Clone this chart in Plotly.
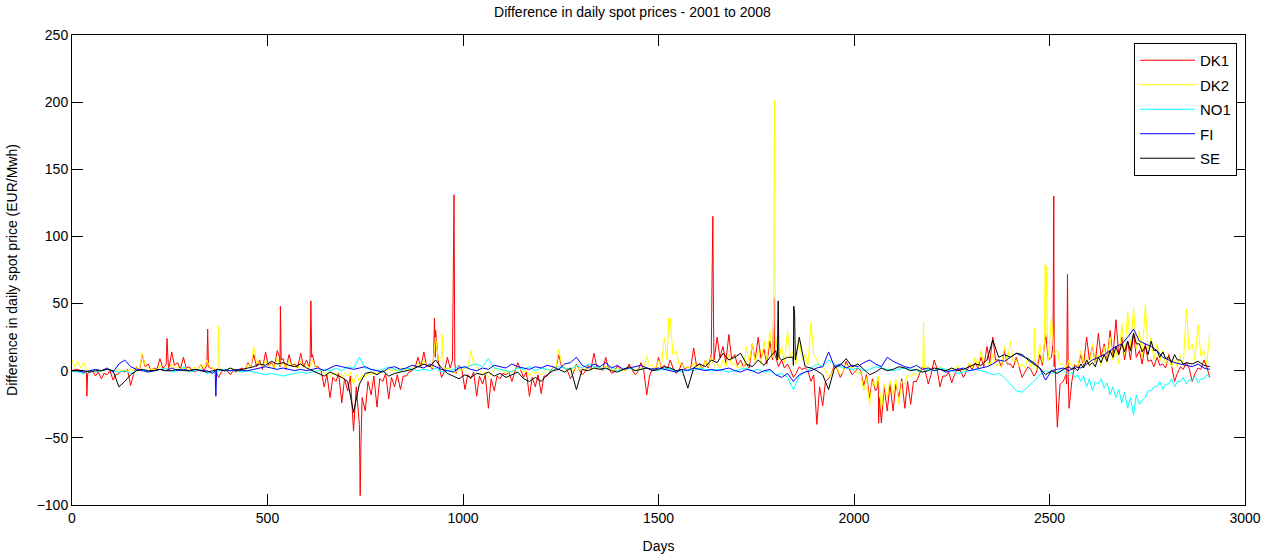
import plotly.graph_objects as go

# ---- data ----
grid_days = list(range(0, 2911, 15))   # outer-envelope sampling days
mid_days = list(range(7, 2903, 15))    # inner-envelope sampling days

dk1_base = [
    0, 1, -2, -1, -4, -6, -3, -7, -2, -1,
    -11, 3, 12, 5, 2, 9, 4, 14, 6, 10,
    3, -1, 5, 12, 2, -5, 1, -3, -1, 2,
    6, 12, 8, 14, 6, 15, 9, 12, 5, 13,
    8, 12, 3, -12, -20, -8, -24, -15, -45, -70,
    -30, -18, -27, -8, -21, -12, -14, -4, 0, 10,
    14, 4, 30, -5, 10, -8, 4, -14, -6, -19,
    -10, -28, -15, -6, -3, -8, 6, -5, -19, -12,
    -17, -4, 3, 12, 2, -6, 5, -3, 4, 13,
    2, 10, -2, 4, 1, 5, -3, 6, -18, 2,
    10, 4, 8, -2, 6, 3, 17, 5, 8, 22,
    25, 18, 27, 12, 8, 5, 20, 25, 16, 22,
    10, 8, 5, -5, 3, 2, -8, -40, -26, -6,
    4, -5, 7, -3, 2, -11, -20, -15, -39, -30,
    -30, -20, -28, -25, -8, 3, -10, 8, -12, -4,
    -9, 2, -5, 4, 6, 10, 18, 25, 8, 15,
    5, 10, -5, 3, -4, 12, 28, 10, -42, -8,
    -28, 5, 12, 25, 18, 28, 20, 30, 38, 25,
    22, 28, 15, 20, 8, 10, 5, 12, -8, 3,
    6, -8, 2, 8, -5,
]
dk1_mid = [
    1, 0, -3, 0, -1, -2, 0, -3, 0, 1,
    -3, 0, 3, 0, 1, 2, 0, 4, 1, 2,
    0, 1, 0, 2, 0, -1, 0, 0, 1, 0,
    2, 3, 1, 4, 2, 3, 1, 4, 2, 3,
    2, 3, 0, -3, -5, -2, -6, -4, -12, -20,
    -8, -4, -6, -2, -5, -3, -4, -1, 2, 3,
    3, 1, 6, -1, 2, -2, 1, -3, -1, -4,
    -3, -6, -4, -2, -1, -2, 1, -1, -5, -3,
    -4, -1, 1, 3, 0, -2, 1, -1, 1, 3,
    0, 2, -1, 1, 0, 1, -1, 1, -4, 0,
    2, 1, 2, 0, 1, 1, 4, 1, 2, 8,
    10, 6, 9, 4, 3, 2, 8, 9, 5, 8,
    3, 2, 1, -2, 1, 0, -3, -12, -8, -2,
    1, -1, 2, -1, 0, -3, -6, -5, -12, -10,
    -10, -6, -8, -8, -3, 0, -3, 2, -4, -1,
    -3, 0, -1, 1, 2, 3, 6, 8, 3, 5,
    2, 3, -1, 1, -1, 4, 8, 3, -10, -3,
    -8, 2, 4, 8, 6, 10, 7, 10, 12, 8,
    8, 10, 5, 7, 3, 4, 2, 4, -2, 1,
    2, -2, 1, 3,
]
dk1_spike_days = [36, 38, 40, 241, 243, 245, 345, 347, 349, 531, 533, 535,
                  609, 611, 613, 735, 737, 739, 925, 927, 929, 973, 975, 977, 979,
                  1635, 1637, 1639, 1641, 1793, 1795, 1797, 2061, 2063, 2065,
                  2509, 2511, 2513, 2544, 2546, 2548]
dk1_spike_vals = [-1, -19, -2, 5, 24, 6, 4, 31, 3, 10, 48, 8,
                  9, 52, 10, -40, -93, -55, 12, 39, 10, 8, 65, 131, 6,
                  12, 70, 115, 28, 20, 54, 12, -12, -39, -20,
                  20, 130, 15, -10, 72, -5]

dk2_base = [
    8, 7, 6, 0, 1, 0, 2, 0, 1, 0,
    1, 3, 13, 2, 1, 4, 2, 5, 3, 2,
    1, 3, 5, 8, 2, 1, 0, 2, 1, 1,
    5, 18, 6, 8, 5, 10, 6, 8, 4, 7,
    5, 8, 2, -2, -5, -3, -6, -4, -10, -8,
    -5, -3, -2, -1, 1, 0, 2, 1, 3, 6,
    8, 5, 25, 3, 2, -2, 1, 2, 15, 3,
    -3, -5, 2, 1, -2, 0, 3, -1, -4, -2,
    -3, 1, 3, 16, 2, 0, 4, 1, 3, 2,
    3, 4, 1, 2, 0, 3, 1, 2, 11, 4,
    8, 25, 39, 15, 5, 3, 6, 4, 8, 10,
    5, 8, 12, 6, 4, 18, 20, 15, 22, 30,
    25, 18, 30, 15, 25, 12, 36, 8, 3, -5,
    2, -3, 5, 3, -2, -15, -25, -12, -29, -20,
    -18, -25, -10, -5, -3, 2, 4, 1, 3, 0,
    2, 4, 1, 6, 10, 15, 8, 12, 5, 18,
    22, 8, 5, 10, 3, 20, 25, 40, 15, 5,
    8, 5, 15, 10, 20, 12, 18, 25, 15, 35,
    44, 47, 30, 49, 25, 20, 15, 10, 8, 12,
    46, 20, 34, 15, 28,
]
dk2_mid = [
    3, 2, 1, 0, 0, 0, 1, 0, 0, 0,
    0, 1, 4, 1, 0, 1, 1, 2, 1, 1,
    0, 1, 2, 3, 1, 0, 0, 1, 0, 0,
    2, 6, 2, 3, 2, 4, 2, 3, 1, 2,
    2, 3, 1, -1, -2, -1, -2, -1, -3, -3,
    -2, -1, -1, 0, 0, 0, 1, 0, 1, 2,
    3, 2, 8, 1, 1, -1, 0, 1, 5, 1,
    -1, -2, 1, 0, -1, 0, 1, 0, -1, -1,
    -1, 0, 1, 5, 1, 0, 1, 0, 1, 1,
    1, 1, 0, 1, 0, 1, 0, 1, 4, 1,
    3, 8, 12, 5, 2, 1, 2, 1, 3, 4,
    2, 3, 4, 2, 1, 6, 7, 5, 8, 10,
    8, 6, 10, 5, 8, 4, 12, 3, 1, -2,
    1, -1, 2, 1, -1, -5, -8, -4, -10, -7,
    -6, -8, -3, -2, -1, 1, 1, 0, 1, 0,
    1, 1, 0, 2, 3, 5, 3, 4, 2, 6,
    7, 3, 2, 3, 1, 6, 8, 12, 5, 2,
    3, 2, 5, 3, 6, 4, 6, 8, 5, 12,
    15, 16, 10, 16, 8, 7, 5, 3, 3, 4,
    15, 7, 11, 5,
]
dk2_spike_days = [373, 375, 377, 945, 947, 949, 1524, 1526, 1528,
                  1794, 1795, 1797, 1799, 2176, 2178, 2180,
                  2459, 2461, 2463, 2487, 2489, 2491, 2493, 2495]
dk2_spike_vals = [2, 33, 3, 10, 27, 8, 20, 39, 25,
                  30, 105, 201, 20, 3, 36, 2,
                  8, 32, 10, 20, 80, 39, 78, 20]

no1_base = [
    0, -1, -2, 0, -1, 0, 1, 0, -1, 0,
    -2, 0, 1, -1, 0, 1, 2, -1, 0, 3,
    -1, 0, 1, -2, -1, 0, 1, 0, 0, -1,
    0, -1, -2, -3, -2, -3, -4, -3, -2, -1,
    -2, -1, 0, 1, 0, 2, 0, 3, 2, 10,
    2, 1, 0, 1, 3, 1, 0, 2, 1, 0,
    1, 0, 2, -1, 0, 1, 3, 2, 4, 5,
    3, 9, 2, 1, 0, -1, 2, 1, 3, 0,
    2, 1, 0, 3, 2, 1, 4, 2, 5, 3,
    2, 1, 3, 0, 1, 2, 0, 1, 2, 1,
    0, 2, 1, 0, -1, 1, 0, 2, 1, 0,
    1, 0, -1, 0, 1, 2, 0, 1, -1, 0,
    -3, -2, -5, -14, -4, -1, 2, 5, 3, 8,
    5, 3, 2, 1, 2, 0, 1, 3, 2, 1,
    0, 1, 2, 1, 0, -1, 1, 0, 2, 1,
    0, -2, -1, 0, 1, 0, -1, -3, -2, -5,
    -10, -15, -16, -12, -8, -3, 0, -2, -1, 0,
    -3, -5, -8, -12, -15, -10, -13, -18, -20, -24,
    -28, -33, -25, -20, -15, -12, -14, -10, -12, -8,
    -10, -7, -9, -6, -5,
]
no1_mid_days = list(range(2557, 2903, 15))
no1_mid = [-1, -3, -4, -6, -8, -6, -9, -12, -14, -16, -20, -18,
           -22, -15, -12, -8, -10, -6, -8, -5, -7, -4, -6, -3]

fi_base = [
    0, 0, -1, 0, 1, 0, 2, -1, 5, 8,
    3, 1, 0, -1, 0, 1, 0, 2, 0, 1,
    0, 1, 0, 0, -2, 1, 0, 0, 1, 0,
    0, 1, 2, 3, 2, 1, 2, 1, 0, 1,
    0, 1, 2, 0, 2, 4, 3, 2, 1, 2,
    3, 1, 0, -1, 2, 3, 1, 2, 4, 3,
    2, 5, 3, 1, 0, -1, 2, 3, 1, 0,
    2, 1, 4, 3, 2, 5, 3, 2, 1, 3,
    2, 4, 3, 1, 5, 6, 10, 4, 2, 5,
    3, 6, 2, 4, 1, 2, 3, 4, 2, 1,
    2, 1, 0, -1, 1, 0, 2, 1, 0, 1,
    0, 1, 2, 0, -1, 1, 0, -2, 0, 1,
    -3, -5, -2, -8, -3, -1, 0, 2, 3, 14,
    3, 5, 2, 4, 3, 6, 8, 5, 3, 10,
    7, 5, 3, 2, 4, 1, 2, 0, 1, -1,
    0, 1, 2, 0, 1, 2, 3, 5, 8, 7,
    10, 13, 11, 9, 6, 2, -7, 0, 1, 2,
    0, 3, 2, 5, 8, 10, 12, 15, 18, 20,
    25, 31, 22, 20, 18, 15, 10, 8, 6, 5,
    4, 3, 5, 2, 1,
]
fi_spike_days = [366, 368, 370]
fi_spike_vals = [0, -19, 1]

se_base = [
    0, 0, 0, -1, 0, 0, 1, 0, -12, -8,
    -3, 0, 1, 0, 0, 1, 0, 0, 1, 0,
    0, 1, 0, -1, 0, 1, 0, 2, 0, 1,
    2, 3, 5, 4, 7, 5, 6, 4, 3, 5,
    2, 0, -2, -4, -1, -3, -5, -8, -31, -10,
    -2, -1, -3, 0, -4, -2, -1, 0, 1, 3,
    5, 3, 8, 2, -2, -4, -6, -3, -5, -2,
    -3, -1, -4, -2, -5, -3, -1, -6, -8, -5,
    -8, -3, 0, 1, -1, 2, -14, 1, 0, 2,
    1, 2, 0, -1, 1, 3, 0, 1, 2, 0,
    1, 3, 2, 0, 1, -13, 2, 5, 3, 8,
    6, 13, 8, 10, 13, 5, 3, 8, 4, 10,
    15, 8, 10, 4, 25, 3, 2, 0, -3, -14,
    2, 4, 9, 3, 5, 1, -3, -1, 2, 0,
    1, 3, 2, 0, 1, -1, 0, 2, 1, 0,
    2, 0, 1, 3, 5, 4, 8, 23, 10, 12,
    10, 13, 12, 8, 5, 2, -3, 0, -2, 1,
    3, 2, 5, 8, 6, 10, 12, 15, 18, 20,
    22, 28, 20, 18, 22, 15, 14, 10, 12, 8,
    6, 5, 7, 4, 3,
]
se_mid_days = list(range(2557, 2843, 15))
se_mid = [1, 0, 2, 4, 3, 6, 7, 10, 12, 14, 15, 20, 14, 12, 15, 10, 9, 6, 8, 5]
se_spike_days = [1804, 1806, 1808, 1844, 1846, 1848, 1850]
se_spike_vals = [8, 52, 10, 10, 48, 43, 8]

series_names = ["DK1", "DK2", "NO1", "FI", "SE"]
series_colors = ["#ff0000", "#ffff00", "#00ffff", "#0000ff", "#000000"]


def merge(*parts):
    pts = {}
    for days, vals in parts:
        pts.update(dict(zip(days, vals)))
    ks = sorted(pts)
    return ks, [pts[k] for k in ks]


series = [
    merge((grid_days, dk1_base), (mid_days, dk1_mid), (dk1_spike_days, dk1_spike_vals)),
    merge((grid_days, dk2_base), (mid_days, dk2_mid), (dk2_spike_days, dk2_spike_vals)),
    merge((grid_days, no1_base), (no1_mid_days, no1_mid)),
    merge((grid_days, fi_base), (fi_spike_days, fi_spike_vals)),
    merge((grid_days, se_base), (se_mid_days, se_mid), (se_spike_days, se_spike_vals)),
]

fig = go.Figure()
for i, (name, color) in enumerate(zip(series_names, series_colors)):
    x, y = series[i]
    fig.add_trace(go.Scatter(x=x, y=y, mode="lines", name=name,
                             line=dict(color=color, width=1),
                             legendgroup=name))

font = "Liberation Sans, Arial, sans-serif"
axis_common = dict(showline=True, linecolor="black", linewidth=1, mirror="ticks",
                   ticks="inside", ticklen=11, tickcolor="black",
                   showgrid=False, zeroline=False, automargin=False,
                   tickfont=dict(family=font, size=14, color="black"))

fig.update_layout(
    width=1265, height=556,
    margin=dict(l=72, r=20, t=35, b=51),
    paper_bgcolor="white", plot_bgcolor="white",
    title=dict(text="Difference in daily spot prices - 2001 to 2008",
               x=0.5, xanchor="center", y=0.978, yanchor="middle",
               font=dict(family=font, size=14, color="black")),
    xaxis=dict(range=[0, 3000], tickvals=[0, 500, 1000, 1500, 2000, 2500, 3000],
               title=dict(text="Days", standoff=16,
                          font=dict(family=font, size=14, color="black")),
               **axis_common),
    yaxis=dict(range=[-100, 250], tickvals=[-100, -50, 0, 50, 100, 150, 200, 250],
               title=dict(text="Difference in daily spot price (EUR/Mwh)", standoff=15,
                          font=dict(family=font, size=14, color="black")),
               **axis_common),
    legend=dict(x=0.9932, xanchor="right", y=0.983, yanchor="top",
                bgcolor="white", bordercolor="black", borderwidth=1,
                font=dict(family=font, size=15, color="black"),
                traceorder="grouped", tracegroupgap=2, itemwidth=55),
    showlegend=True,
)

fig.write_html("out.html")
